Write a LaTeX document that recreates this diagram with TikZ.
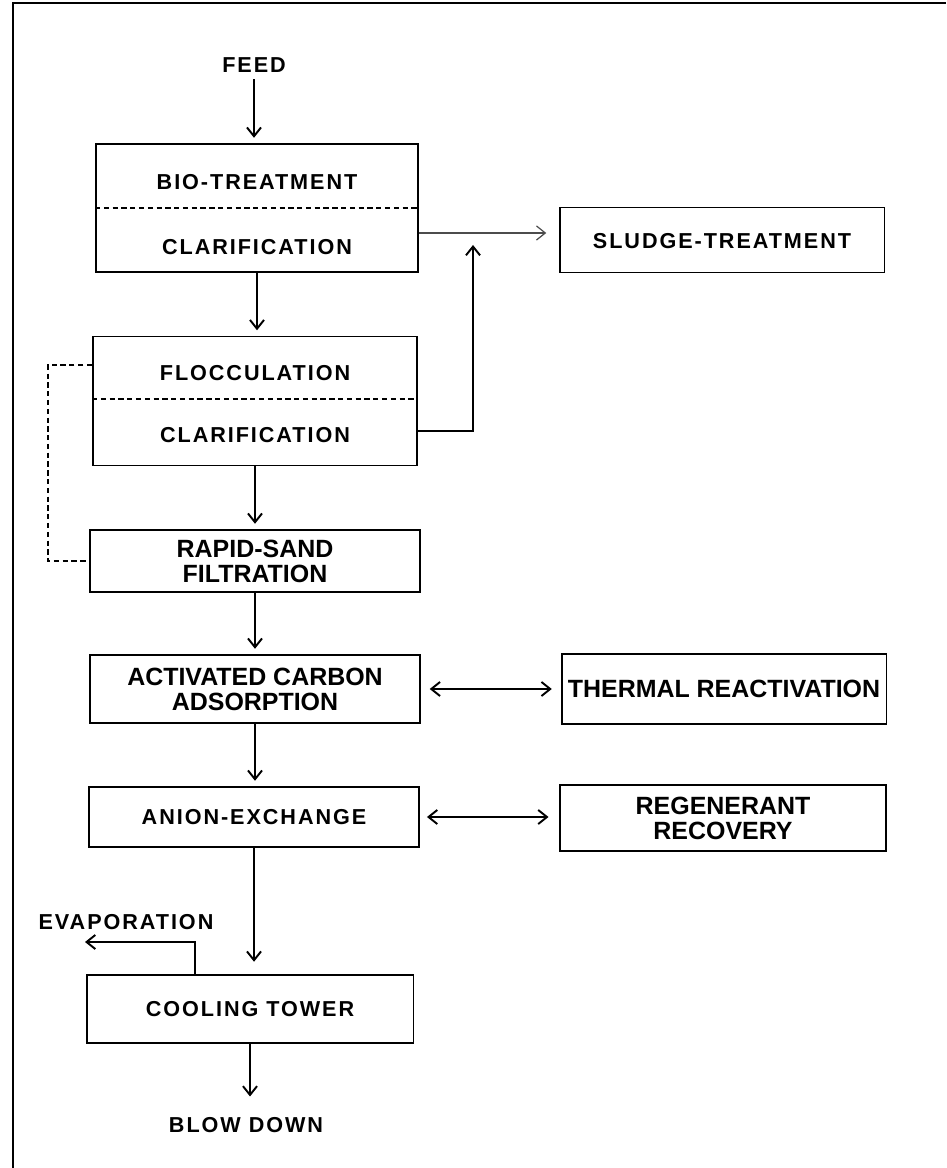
\documentclass[tikz,border=0pt]{standalone}
\usepackage{fontspec}
\setmainfont{Liberation Sans}
\newfontfamily\spacedfont{Liberation Sans}[LetterSpace=9]
\usetikzlibrary{arrows.meta}

\begin{document}
\begin{tikzpicture}[x=0.02cm,y=-0.02cm,line width=1.1pt,
    >={Straight Barb[length=5pt,width=8pt]},
    box/.style 2 args={draw,inner sep=0pt,minimum width=#1,minimum height=#2},
    caps/.style={font=\spacedfont\bfseries\fontsize{12.3}{14}\selectfont},
    tight/.style={font=\bfseries\fontsize{14.2}{14.2}\selectfont,align=center},
    flow/.style={->,shorten >=3pt},
    split/.style={densely dashed,line width=0.6pt}]
    \useasboundingbox (0,0) rectangle (946,1168);
    \draw (13,1168) -- (13,3) -- (946,3);

    \node[caps] (feed) at (254,65) {FEED};

    \node[box={6.44cm}{2.56cm}] (bio) at (257,208) {};
    \node[caps] (biotxt) at (257,182) {BIO-TREATMENT};
    \node[caps] (clar1) at (257,247) {CLARIFICATION};
    \draw[split] (bio.west) -- (bio.east);

    \node[box={6.5cm}{1.3cm}] (sludge) at (722,240) {};
    \node[caps] (sludgetxt) at (722,241) {SLUDGE-TREATMENT};

    \node[box={6.48cm}{2.58cm}] (floc) at (255,401) {};
    \node[caps] (floctxt) at (255,373) {FLOCCULATION};
    \node[caps] (clar2) at (255,435) {CLARIFICATION};
    \draw[split] (floc.west |- 0,399) -- (floc.east |- 0,399);

    \node[box={6.6cm}{1.24cm},tight] (rapid) at (255,561) {RAPID-SAND\\FILTRATION};
    \node[box={6.6cm}{1.36cm},tight] (carbon) at (255,689) {ACTIVATED CARBON\\ADSORPTION};
    \node[box={6.5cm}{1.4cm},tight] (thermal) at (724,689) {THERMAL REACTIVATION};
    \node[box={6.6cm}{1.2cm},caps] (anion) at (254,817) {ANION-EXCHANGE};
    \node[box={6.52cm}{1.32cm},tight] (regen) at (723,818) {REGENERANT\\RECOVERY};
    \node[box={6.54cm}{1.36cm},caps] (tower) at (250,1009) {COOLING TOWER};
    \node[caps] (evap) at (126,922) {EVAPORATION};
    \node[caps] (blow) at (246,1125) {BLOW DOWN};

    \coordinate (join) at (473,245);
    \coordinate (vent) at (85,942);

    \draw[flow] (feed.south) -- (feed.south |- bio.north);
    \draw[flow] (bio.south) -- (bio.south |- floc.north);
    \draw[flow] (floc.south) -- (floc.south |- rapid.north);
    \draw[flow] (rapid.south) -- (rapid.south |- carbon.north);
    \draw[flow] (carbon.south) -- (carbon.south |- anion.north);
    \draw[flow,shorten >=7pt] (anion.south) -- (anion.south |- tower.north);
    \draw[flow,shorten >=8pt] (tower.south) -- (tower.south |- blow.north);

    \draw[->,line width=0.7pt,black!70,shorten >=7pt] (bio.east |- 0,233) -- (sludge.west |- 0,233);
    \draw[->] (floc.east |- 0,431) -| (join);
    \draw[densely dashed,line width=0.9pt] (floc.west |- 0,365) -| (rapid.west -| 48,0) -- (rapid.west);

    \draw[<->,shorten <=5pt,shorten >=5pt] (carbon) -- (thermal);
    \draw[<->,shorten <=4pt,shorten >=6pt] (anion.east) -- (anion.east -| regen.west);
    \draw[->] (tower.north -| 195,0) |- (vent);
\end{tikzpicture}
\end{document}
